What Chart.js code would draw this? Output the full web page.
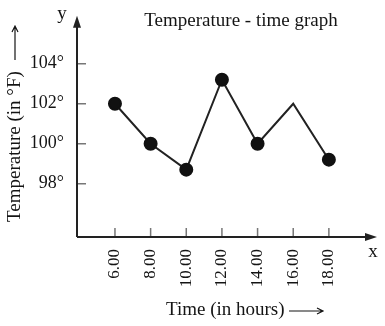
<!DOCTYPE html>
<html>
<head>
<meta charset="utf-8">
<script src="https://cdn.jsdelivr.net/npm/chart.js@4"></script>
<style>
  html, body { margin: 0; padding: 0; background: #fff; }
  #wrap { width: 385px; height: 326px; }
</style>
</head>
<body>
<div id="wrap"><canvas id="tempChart"></canvas></div>
<script>
// values
var hours = [6, 8, 10, 12, 14, 16, 18];
var temps = [102, 100, 98.7, 103.2, 100, 102, 99.2];
var markerShown = [true, true, true, true, true, false, true];
var xTicks = [6, 8, 10, 12, 14, 16, 18];
var yTicks = [98, 100, 102, 104];

var ink = '#141414';
var serif = '"Liberation Serif", "Times New Roman", serif';

// arrows, tick marks and free text
var decorations = {
    id: 'decorations',
    afterDraw: function (chart) {
        var ctx = chart.ctx;
        var a = chart.chartArea;
        var xs = chart.scales.x, ys = chart.scales.y;
        ctx.save();

        // inner tick marks
        ctx.strokeStyle = '#777';
        ctx.lineWidth = 1.5;
        ctx.beginPath();
        yTicks.forEach(function (v) {
            var py = ys.getPixelForValue(v);
            ctx.moveTo(a.left, py);
            ctx.lineTo(a.left + 9, py);
        });
        xTicks.forEach(function (v) {
            var px = xs.getPixelForValue(v);
            ctx.moveTo(px, a.bottom);
            ctx.lineTo(px, a.bottom - 9);
        });
        ctx.stroke();

        // axes with arrow heads
        ctx.strokeStyle = '#222';
        ctx.fillStyle = '#222';
        ctx.lineWidth = 2;
        ctx.beginPath();
        ctx.moveTo(a.left, a.bottom);
        ctx.lineTo(a.left, a.top + 8);
        ctx.moveTo(a.left, a.bottom);
        ctx.lineTo(a.right - 8, a.bottom);
        ctx.stroke();
        ctx.beginPath();
        ctx.moveTo(a.left, a.top);
        ctx.lineTo(a.left - 4, a.top + 12);
        ctx.lineTo(a.left + 4, a.top + 12);
        ctx.closePath();
        ctx.fill();
        ctx.beginPath();
        ctx.moveTo(a.right, a.bottom);
        ctx.lineTo(a.right - 12, a.bottom - 4);
        ctx.lineTo(a.right - 12, a.bottom + 4);
        ctx.closePath();
        ctx.fill();

        // texts
        ctx.fillStyle = ink;
        ctx.font = '19px ' + serif;
        ctx.textAlign = 'center';
        ctx.textBaseline = 'middle';
        ctx.fillText('Temperature - time graph', 241, 21);
        ctx.fillText('y', 62, 14);
        ctx.fillText('x', 373, 252);

        ctx.textAlign = 'left';
        ctx.fillText('Time (in hours)', 166, 310);

        ctx.save();
        ctx.translate(15, 222);
        ctx.rotate(-Math.PI / 2);
        ctx.fillText('Temperature (in °F)', 0, 0);
        ctx.restore();

        // little arrows after the axis titles
        ctx.strokeStyle = ink;
        ctx.lineWidth = 1.2;
        ctx.beginPath();
        ctx.moveTo(289, 311);
        ctx.lineTo(322, 311);
        ctx.moveTo(317, 308);
        ctx.lineTo(323, 311);
        ctx.lineTo(317, 314);
        ctx.moveTo(15, 60);
        ctx.lineTo(15, 27);
        ctx.moveTo(12, 32);
        ctx.lineTo(15, 26);
        ctx.lineTo(18, 32);
        ctx.stroke();

        ctx.restore();
    }
};

new Chart(document.getElementById('tempChart'), {
    type: 'line',
    data: {
        datasets: [{
            data: hours.map(function (h, i) { return { x: h, y: temps[i] }; }),
            borderColor: '#222',
            borderWidth: 2,
            backgroundColor: '#111',
            pointBackgroundColor: '#111',
            pointBorderColor: '#111',
            pointRadius: markerShown.map(function (m) { return m ? 6 : 0; }),
            tension: 0
        }]
    },
    options: {
        responsive: true,
        maintainAspectRatio: false,
        animation: false,
        events: [],
        layout: { padding: { top: 13, right: 8, left: 0, bottom: 0 } },
        plugins: {
            legend: { display: false },
            tooltip: { enabled: false }
        },
        scales: {
            x: {
                type: 'linear',
                min: 3.87,
                max: 20.7,
                grid: { display: false },
                border: { display: false },
                afterBuildTicks: function (scale) {
                    scale.ticks = xTicks.map(function (v) { return { value: v }; });
                },
                afterFit: function (scale) { scale.height = 89; },
                ticks: {
                    minRotation: 90,
                    maxRotation: 90,
                    padding: 4,
                    color: ink,
                    font: { family: serif, size: 17 },
                    callback: function (v) { return v.toFixed(2); }
                }
            },
            y: {
                min: 95.33,
                max: 106.4,
                grid: { display: false },
                border: { display: false },
                afterBuildTicks: function (scale) {
                    scale.ticks = yTicks.map(function (v) { return { value: v }; });
                },
                afterFit: function (scale) { scale.width = 77; },
                ticks: {
                    padding: 5,
                    color: ink,
                    font: { family: serif, size: 18 },
                    callback: function (v) { return v + '°'; }
                }
            }
        }
    },
    plugins: [decorations]
});
</script>
</body>
</html>
